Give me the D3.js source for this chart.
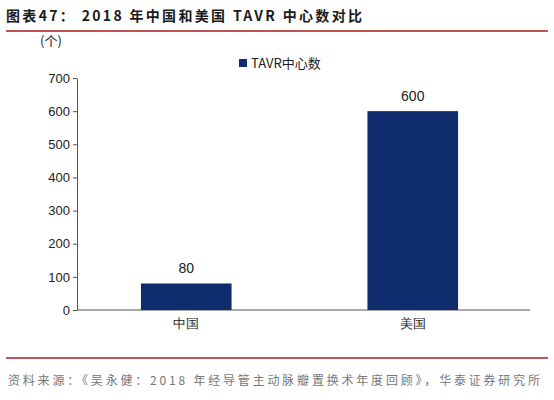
<!DOCTYPE html>
<html><head><meta charset="utf-8">
<script src="https://cdn.jsdelivr.net/npm/d3@7"></script>
<style>body{margin:0;background:#fff;font-family:"Noto Sans CJK SC","Liberation Sans",sans-serif;}</style>
</head><body>
<svg id="chart" width="554" height="400"></svg>
<script>
var categories = ["中国", "美国"];
var values = [80, 600];
var yTicks = [0, 100, 200, 300, 400, 500, 600, 700];
var seriesName = "TAVR中心数";

var svg = d3.select('#chart');
var barColor = '#0e2c6d';
var lineColor = '#b11a1e';

svg.append('text').attr('x', 6).attr('y', 21)
	.attr('font-size', 14).attr('font-weight', 'bold').attr('fill', '#1a1a1a')
	.attr('textLength', 356).attr('lengthAdjust', 'spacing')
	.text('图表47：  2018 年中国和美国 TAVR 中心数对比');
svg.append('line').attr('x1', 6).attr('x2', 548).attr('y1', 31).attr('y2', 31)
	.attr('stroke', lineColor).attr('stroke-width', 1.5);

var x = d3.scaleBand().domain(categories).range([73, 526]).padding(0);
var y = d3.scaleLinear().domain([0, 700]).range([310, 78]);

var yAxis = svg.append('g').attr('transform', 'translate(77,0)')
	.call(d3.axisLeft(y).tickValues(yTicks).tickSize(4).tickSizeOuter(0));
yAxis.selectAll('text').attr('font-size', 13).attr('fill', '#222').attr('font-family', 'Liberation Sans');
yAxis.selectAll('line,path').attr('stroke', '#555');

var xAxis = svg.append('g').attr('transform', 'translate(0,310)')
	.call(d3.axisBottom(x).tickSize(0).tickSizeOuter(0).tickPadding(9));
xAxis.select('path').attr('d', 'M77,0H530');
xAxis.selectAll('text').attr('font-size', 13).attr('fill', '#222');
xAxis.selectAll('path').attr('stroke', '#555');

var bw = x.bandwidth() * 0.4;
svg.selectAll('rect.bar').data(values).enter().append('rect')
	.attr('class', 'bar')
	.attr('x', function(d, i) { return x(categories[i]) + (x.bandwidth() - bw) / 2; })
	.attr('y', function(d) { return y(d); })
	.attr('width', bw)
	.attr('height', function(d) { return 310 - y(d); })
	.attr('fill', barColor);

svg.selectAll('text.val').data(values).enter().append('text')
	.attr('x', function(d, i) { return x(categories[i]) + x.bandwidth() / 2; })
	.attr('y', function(d) { return y(d) - 10; })
	.attr('text-anchor', 'middle').attr('font-size', 14).attr('fill', '#222')
	.attr('font-family', 'Liberation Sans')
	.text(function(d) { return d; });

svg.append('text').attr('x', 40).attr('y', 46).attr('font-size', 13).attr('fill', '#222').text('(个)');

svg.append('rect').attr('x', 239).attr('y', 59).attr('width', 8).attr('height', 8).attr('fill', barColor);
svg.append('text').attr('x', 251).attr('y', 68).attr('font-size', 13).attr('fill', '#222').text(seriesName);

svg.append('line').attr('x1', 6).attr('x2', 548).attr('y1', 358).attr('y2', 358)
	.attr('stroke', lineColor).attr('stroke-width', 1.5);
svg.append('text').attr('x', 8).attr('y', 385).attr('font-size', 12).attr('fill', '#777')
	.attr('textLength', 532).attr('lengthAdjust', 'spacing')
	.text('资料来源：《吴永健：2018 年经导管主动脉瓣置换术年度回顾》，华泰证券研究所');
</script>
</body></html>
